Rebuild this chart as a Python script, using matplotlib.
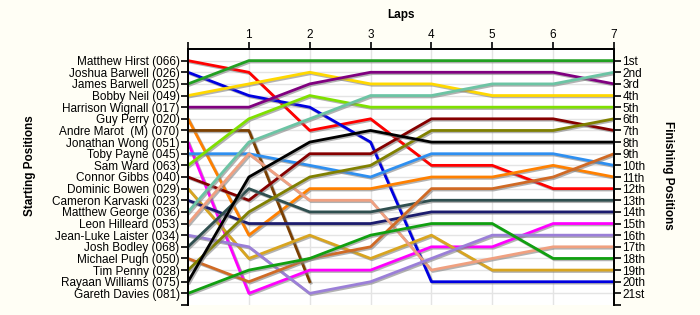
import numpy as np
import matplotlib
matplotlib.use("Agg")
import matplotlib.pyplot as plt
import matplotlib.patheffects as pe

plt.rcParams['font.family'] = ['Liberation Sans', 'DejaVu Sans']

#%%     DATA

laps = [0, 1, 2, 3, 4, 5, 6, 7]
drivers = ["Matthew Hirst (066)", "Joshua Barwell (026)", "James Barwell (025)",
           "Bobby Neil (049)", "Harrison Wignall (017)", "Guy Perry (020)",
           "Andre Marot  (M) (070)", "Jonathan Wong (051)", "Toby Payne (045)",
           "Sam Ward (063)", "Connor Gibbs (040)", "Dominic Bowen (029)",
           "Cameron Karvaski (023)", "Matthew George (036)", "Leon Hilleard (053)",
           "Jean-Luke Laister (034)", "Josh Bodley (068)", "Michael Pugh (050)",
           "Tim Penny (028)", "Rayaan Williams (075)", "Gareth Davies (081)"]

hirst    = [1, 2, 7, 6, 10, 10, 12, 12]
j_barwell = [2, 4, 5, 8, 20, 20, 20, 20]
ja_barwell = [3, 1, 1, 1, 1, 1, 1, 1]
neil     = [4, 3, 2, 3, 3, 4, 4, 4]
wignall  = [5, 5, 3, 2, 2, 2, 2, 3]
perry    = [6, 16, 12, 12, 11, 11, 10, 11]
marot    = [7, 7, 20, np.nan, np.nan, np.nan, np.nan, np.nan]
wong     = [8, 21, 19, 19, 17, 17, 15, 15]
payne    = [9, 9, 10, 11, 9, 9, 9, 10]
ward     = [10, 6, 4, 5, 5, 5, 5, 5]
gibbs    = [11, 13, 9, 9, 6, 6, 6, 7]
bowen    = [12, 18, 16, 18, 16, 19, 19, 19]
karvaski = [13, 15, 15, 15, 14, 14, 14, 14]
george   = [14, 8, 6, 4, 4, 3, 3, 2]
hilleard = [15, 9, 13, 13, 19, 18, 17, 17]
laister  = [16, 17, 21, 20, 18, 16, 16, 16]
bodley   = [17, 12, 14, 14, 13, 13, 13, 13]
pugh     = [18, 20, 18, 17, 12, 12, 11, 9]
penny    = [19, 14, 11, 10, 7, 7, 7, 6]
williams = [20, 11, 8, 7, 8, 8, 8, 8]
davies   = [21, 19, 18, 16, 15, 15, 18, 18]

finish_labels = ["1st", "2nd", "3rd", "4th", "5th", "6th", "7th", "8th", "9th",
                 "10th", "11th", "12th", "13th", "14th", "15th", "16th", "17th",
                 "18th", "19th", "20th", "21st"]

series = [hirst, j_barwell, ja_barwell, neil, wignall, perry, marot, wong, payne,
          ward, gibbs, bowen, karvaski, george, hilleard, laister, bodley, pugh,
          penny, williams, davies]
colors = ["#FF0000", "#0000E0", "#22A022", "#FFD800", "#800080", "#FF8000",
          "#7B3F00", "#FF00FF", "#2E8FF0", "#7FE000", "#850000", "#D8A520",
          "#1C1C6E", "#6CC4A4", "#F0A080", "#9B7FD8", "#2F4F4F", "#D06A25",
          "#808000", "#000000", "#10A010"]

#%%     PLOT

fig = plt.figure(figsize=(7, 3.15), dpi=100, facecolor="#FFFEF5")
ax = fig.add_axes([188/700, 1-305/315, 426/700, 256/315])
ax.set_facecolor("white")

shadow = [pe.SimpleLineShadow(offset=(1, -1), shadow_color="gray", alpha=0.6), pe.Normal()]
for s, c in zip(series, colors):
    ax.plot(laps, s, color=c, lw=2, path_effects=shadow, zorder=3)

ax.set_xlim(0, 7)
ax.set_ylim(22, 0)

ax.xaxis.tick_top()
ax.set_xticks(laps)
ax.set_xticklabels([""] + [str(l) for l in laps[1:]], fontsize=8.5)
ax.set_yticks(range(1, 23))
ax.set_yticklabels(drivers + [""], fontsize=8.5)
ax.tick_params(axis="x", length=5, width=1.2, pad=1)
ax.tick_params(axis="y", length=5, width=1.2, pad=1)

ax2 = ax.twinx()
ax2.set_ylim(22, 0)
ax2.set_yticks(range(1, 23))
ax2.set_yticklabels(finish_labels + [""], fontsize=8.5)
ax2.tick_params(axis="y", length=5, width=1.2, pad=1)

for a in (ax, ax2):
    a.spines["bottom"].set_visible(False)
    for sp in ("top", "left", "right"):
        a.spines[sp].set_linewidth(1.3)

for l in laps[1:-1]:
    ax.axvline(l, color="#E4E4E4", lw=1, zorder=1)
for r in range(1, 22):
    ax.axhline(r, color="#E4E4E4", lw=1, zorder=1)

ax.set_title("Laps", fontsize=8.5, fontweight="bold", pad=22)
fig.text(30/700, 1-166/315, "Starting Positions", rotation=90, fontsize=8.5,
         fontweight="bold", ha="center", va="center")
fig.text(668/700, 1-175/315, "Finishing Positions", rotation=270, fontsize=8.5,
         fontweight="bold", ha="center", va="center")

fig.savefig("out.png", dpi=100, facecolor=fig.get_facecolor())
